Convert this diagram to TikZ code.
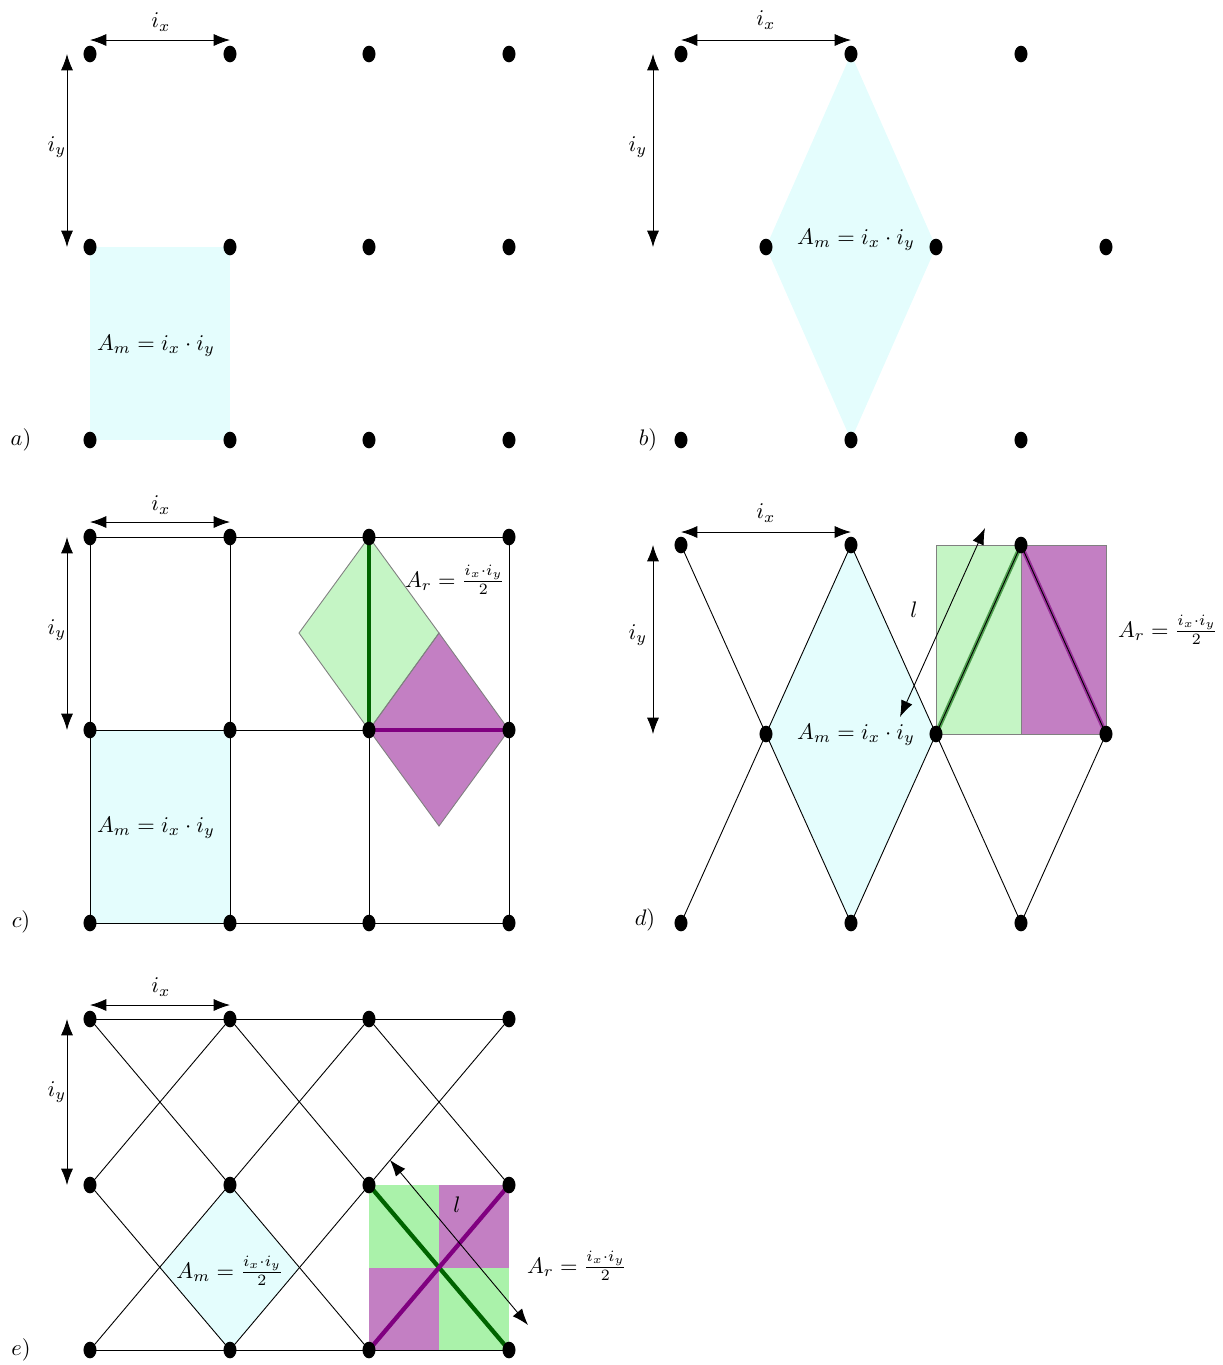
\documentclass[tikz,border=0pt]{standalone}
\usepackage{amsmath}
\usetikzlibrary{shapes.geometric,arrows.meta}
\definecolor{cyanfill}{HTML}{E4FDFD}
\definecolor{greenfill}{HTML}{C5F5C5}
\definecolor{greenfillb}{HTML}{AAF2AA}
\definecolor{magfill}{HTML}{C37FC3}
\definecolor{dkgreen}{HTML}{006400}
\definecolor{dkpurple}{HTML}{800080}
\begin{document}
\begin{tikzpicture}[x=0.445pt,y=-0.445pt,
  dot/.style={ellipse,fill=black,minimum width=5.8pt,minimum height=7.4pt,inner sep=0pt},
  dim/.style={{Latex[length=7.3pt,width=5.4pt]}-{Latex[length=7.3pt,width=5.4pt]},line width=0.4pt},
  thin/.style={line width=0.4pt},
  box/.style={draw=gray,line width=0.4pt},
  gthick/.style={dkgreen,line width=1.9pt},
  pthick/.style={dkpurple,line width=1.9pt},
  lab/.style={inner sep=1pt}]
\useasboundingbox (0,0) rectangle (1223,1365);

% ================= panel a =================
\fill[cyanfill] (90,247) rectangle (230,440);
\foreach \x [count=\i] in {90,230,369,509}
  \foreach \y [count=\j] in {54,247,440}
    \node[dot] (a\i\j) at (\x,\y) {};
\coordinate (aix1) at (90,40); \coordinate (aix2) at (230,40);
\coordinate (aiy1) at (67,54); \coordinate (aiy2) at (67,247);
\draw[dim] (aix1) -- (aix2);
\draw[dim] (aiy1) -- (aiy2);
\node[lab] (aixl) at (161,22) {$i_x$};
\node[lab] (aiyl) at (57,147) {$i_y$};
\node[lab] (aAm) at (156,346) {$A_m = i_x\cdot i_y$};
\node[lab] (atag) at (21,440) {$a)$};

% ================= panel b =================
\foreach \x [count=\i] in {681,851,1021} {
  \coordinate (bb\i1) at (\x,54);
  \coordinate (bb\i3) at (\x,440);
}
\foreach \x [count=\i] in {766,936,1106}
  \coordinate (bb\i2) at (\x,247);
\fill[cyanfill] (bb21) -- (bb22) -- (bb23) -- (bb12) -- cycle;
\foreach \i in {1,2,3}
  \foreach \j in {1,2,3}
    \node[dot] (b\i\j) at (bb\i\j) {};
\coordinate (bix1) at (681,40); \coordinate (bix2) at (851,40);
\coordinate (biy1) at (653,54); \coordinate (biy2) at (653,247);
\draw[dim] (bix1) -- (bix2);
\draw[dim] (biy1) -- (biy2);
\node[lab] (bixl) at (766,20) {$i_x$};
\node[lab] (biyl) at (638,147) {$i_y$};
\node[lab] (bAm) at (856,240) {$A_m = i_x\cdot i_y$};
\node[lab] (btag) at (648,440) {$b)$};

% ================= panel c =================
\fill[cyanfill] (90,730) rectangle (230,923);
\fill[greenfill] (369,537) -- (439,633) -- (369,730) -- (299,633) -- cycle;
\fill[magfill] (369,730) -- (439,633) -- (509,730) -- (439,826) -- cycle;
\draw[box] (369,537) -- (439,633) -- (369,730) -- (299,633) -- cycle;
\draw[box] (369,730) -- (439,633) -- (509,730) -- (439,826) -- cycle;
\foreach \x [count=\i] in {90,230,369,509}
  \foreach \y [count=\j] in {537,730,923}
    \coordinate (cc\i\j) at (\x,\y);
\foreach \j in {1,2,3} \draw[thin] (cc1\j) -- (cc4\j);
\foreach \i in {1,2,3,4} \draw[thin] (cc\i1) -- (cc\i3);
\draw[gthick] (cc31) -- (cc32);
\draw[pthick] (cc32) -- (cc42);
\foreach \i in {1,2,3,4}
  \foreach \j in {1,2,3}
    \node[dot] (c\i\j) at (cc\i\j) {};
\coordinate (cix1) at (90,522); \coordinate (cix2) at (230,522);
\coordinate (ciy1) at (67,537); \coordinate (ciy2) at (67,730);
\draw[dim] (cix1) -- (cix2);
\draw[dim] (ciy1) -- (ciy2);
\node[lab] (cixl) at (161,505) {$i_x$};
\node[lab] (ciyl) at (57,630) {$i_y$};
\node[lab] (cAm) at (156,828) {$A_m = i_x\cdot i_y$};
\node[lab] (cAr) at (455,580) {$A_r = \frac{i_x\cdot i_y}{2}$};
\node[lab] (ctag) at (21,922) {$c)$};

% ================= panel d =================
\foreach \x [count=\i] in {681,851,1021} {
  \coordinate (dd\i1) at (\x,545);
  \coordinate (dd\i3) at (\x,923);
}
\foreach \x [count=\i] in {766,936,1106}
  \coordinate (dd\i2) at (\x,734);
\fill[cyanfill] (dd21) -- (dd22) -- (dd23) -- (dd12) -- cycle;
\fill[greenfill] (936,545) rectangle (1021,734);
\fill[magfill] (1021,545) rectangle (1106,734);
\draw[box] (936,545) rectangle (1021,734);
\draw[box] (1021,545) rectangle (1106,734);
\draw[thin] (dd11) -- (dd12) -- (dd13);
\draw[thin] (dd12) -- (dd21) -- (dd22) -- (dd23) -- (dd12);
\draw[thin] (dd22) -- (dd33) -- (dd32);
\draw[gthick,opacity=0.6] (dd22) -- (dd31);
\draw[pthick,opacity=0.6] (dd31) -- (dd32);
\draw[thin] (dd22) -- (dd31) -- (dd32);
\foreach \i in {1,2,3}
  \foreach \j in {1,2,3}
    \node[dot] (d\i\j) at (dd\i\j) {};
\coordinate (dl1) at (900,717); \coordinate (dl2) at (985,528);
\draw[dim] (dl1) -- (dl2);
\node[lab] (dll) at (914,610) {$l$};
\coordinate (dix1) at (681,532); \coordinate (dix2) at (851,532);
\coordinate (diy1) at (653,545); \coordinate (diy2) at (653,734);
\draw[dim] (dix1) -- (dix2);
\draw[dim] (diy1) -- (diy2);
\node[lab] (dixl) at (766,513) {$i_x$};
\node[lab] (diyl) at (638,635) {$i_y$};
\node[lab] (dAm) at (856,735) {$A_m = i_x\cdot i_y$};
\node[lab] (dAr) at (1168,630) {$A_r = \frac{i_x\cdot i_y}{2}$};
\node[lab] (dtag) at (645,920) {$d)$};

% ================= panel e =================
\foreach \x [count=\i] in {90,230,369,509}
  \foreach \y [count=\j] in {1019,1185,1350}
    \coordinate (ee\i\j) at (\x,\y);
\fill[cyanfill] (ee22) -- (299,1268) -- (ee23) -- (160,1268) -- cycle;
\fill[greenfillb] (369,1185) rectangle (439,1268);
\fill[magfill] (439,1185) rectangle (509,1268);
\fill[magfill] (369,1268) rectangle (439,1350);
\fill[greenfillb] (439,1268) rectangle (509,1350);
\draw[thin] (ee11) -- (ee41);
\draw[thin] (ee13) -- (ee43);
\draw[thin] (ee11) -- (ee33);
\draw[thin] (ee21) -- (ee32);
\draw[thin] (ee31) -- (ee42);
\draw[thin] (ee12) -- (ee23);
\draw[thin] (ee21) -- (ee12);
\draw[thin] (ee31) -- (ee13);
\draw[thin] (ee41) -- (ee23);
\draw[gthick] (ee32) -- (ee43);
\draw[pthick] (ee42) -- (ee33);
\foreach \i in {1,2,3,4}
  \foreach \j in {1,2,3}
    \node[dot] (e\i\j) at (ee\i\j) {};
\coordinate (el1) at (390,1160); \coordinate (el2) at (528,1325);
\draw[dim] (el1) -- (el2);
\node[lab] (ell) at (457,1205) {$l$};
\coordinate (eix1) at (90,1005); \coordinate (eix2) at (230,1005);
\coordinate (eiy1) at (67,1019); \coordinate (eiy2) at (67,1185);
\draw[dim] (eix1) -- (eix2);
\draw[dim] (eiy1) -- (eiy2);
\node[lab] (eixl) at (161,987) {$i_x$};
\node[lab] (eiyl) at (57,1092) {$i_y$};
\node[lab] (eAm) at (230,1271) {$A_m = \frac{i_x\cdot i_y}{2}$};
\node[lab] (eAr) at (577,1266) {$A_r = \frac{i_x\cdot i_y}{2}$};
\node[lab] (etag) at (21,1350) {$e)$};
\end{tikzpicture}
\end{document}
